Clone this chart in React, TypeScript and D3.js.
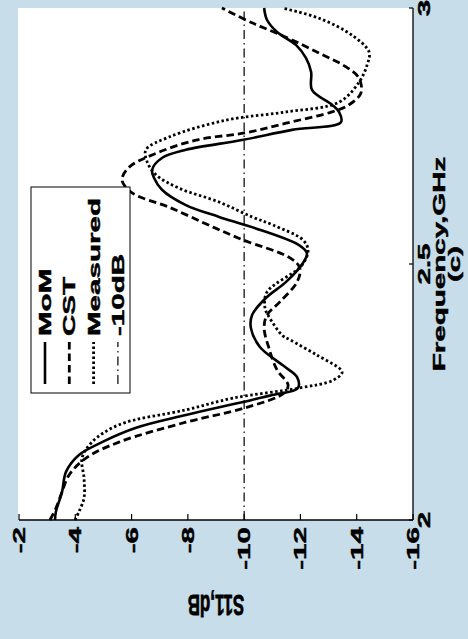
import React from 'react';
import * as d3 from 'd3';

// S11 vs frequency, three series
const momFreq = [2.000, 2.016, 2.055, 2.094, 2.127, 2.152, 2.180, 2.205, 2.230, 2.244, 2.258, 2.279, 2.303, 2.338, 2.375, 2.400, 2.434, 2.465, 2.502, 2.521, 2.537, 2.572, 2.592, 2.615, 2.645, 2.668, 2.684, 2.707, 2.723, 2.742, 2.762, 2.777, 2.797, 2.811, 2.840, 2.875, 2.902, 2.928, 2.953, 2.977, 3.000];
const momS11 = [-3.28, -3.31, -3.53, -3.67, -4.13, -4.95, -6.16, -7.93, -9.92, -11.0, -11.91, -11.88, -11.35, -10.56, -10.24, -10.28, -10.78, -11.49, -12.09, -12.23, -11.95, -10.28, -9.11, -7.93, -7.08, -6.80, -6.73, -7.08, -7.93, -9.92, -11.70, -13.44, -13.37, -13.12, -12.41, -12.38, -12.20, -11.84, -11.17, -10.81, -10.71];

const cstFreq = [2.000, 2.023, 2.055, 2.088, 2.121, 2.152, 2.191, 2.219, 2.248, 2.264, 2.293, 2.336, 2.375, 2.400, 2.426, 2.465, 2.492, 2.512, 2.547, 2.572, 2.611, 2.639, 2.664, 2.689, 2.713, 2.742, 2.756, 2.775, 2.797, 2.811, 2.834, 2.863, 2.885, 2.912, 2.943, 2.971, 3.000];
const cstS11 = [-3.10, -3.31, -3.53, -3.78, -4.38, -5.55, -7.93, -10.03, -11.42, -11.56, -11.17, -10.88, -10.71, -10.81, -11.27, -11.88, -11.98, -11.63, -9.96, -8.9, -7.33, -6.02, -5.66, -5.91, -6.73, -8.29, -10.03, -11.49, -13.12, -13.73, -14.15, -14.08, -13.62, -12.66, -11.49, -10.28, -9.21];

const measFreq = [2.000, 2.016, 2.043, 2.082, 2.121, 2.152, 2.186, 2.215, 2.238, 2.258, 2.273, 2.289, 2.322, 2.352, 2.361, 2.400, 2.414, 2.445, 2.498, 2.527, 2.547, 2.576, 2.592, 2.621, 2.648, 2.674, 2.700, 2.723, 2.748, 2.781, 2.797, 2.816, 2.855, 2.889, 2.914, 2.947, 2.980, 3.000];
const measS11 = [-3.99, -4.13, -4.31, -4.31, -4.24, -4.59, -5.55, -7.93, -9.60, -11.98, -13.16, -13.48, -12.59, -11.63, -11.35, -10.85, -10.74, -10.81, -12.06, -12.27, -12.09, -11.03, -10.28, -9.11, -7.69, -6.87, -6.55, -6.51, -7.33, -9.36, -11.49, -13.37, -14.08, -14.37, -14.44, -13.83, -12.66, -11.35];

const refLevel = -10;
const xTicks = [2, 2.5, 3];
const xTickLabels = ['2', '2.5', '3'];
const yTicks = [-2, -4, -6, -8, -10, -12, -14, -16];
const legendLabels = ['MoM', 'CST', 'Measured', '-10dB'];

const font = 'Liberation Sans, Arial, sans-serif';
const stretch = 1.74; // the figure's text is widened along the frequency axis

export default function App() {
  // the chart is drawn unrotated (639 wide, 468 tall) then turned 90deg counter-clockwise
  const x = d3.scaleLinear().domain([2, 3]).range([119, 631]);
  const y = d3.scaleLinear().domain([-2, -16]).range([19, 413]);

  const lineF = d3.line<[number, number]>()
    .x(d => x(d[0]))
    .y(d => y(d[1]))
    .curve(d3.curveCatmullRom.alpha(0.5));

  const zip = (f: number[], s: number[]) => f.map((v, i) => [v, s[i]] as [number, number]);

  const styles = [
    { dash: 'none', w: 2.6 },
    { dash: '7.5,4', w: 2.8 },
    { dash: '2.5,2.5', w: 2.8 },
    { dash: '9,4,1.5,4', w: 1.2 },
  ];

  const series = [zip(momFreq, momS11), zip(cstFreq, cstS11), zip(measFreq, measS11)];

  const [y0, y1] = y.range();
  const [x0, x1] = x.range();

  const txt = { fontFamily: font, fontWeight: 'bold' as const, fontSize: 17, stroke: '#000', strokeWidth: 0.45 };

  return (
    <svg width={468} height={639} style={{ position: 'absolute', left: 0, top: 0, background: '#c7dde9' }}>
      <g transform="translate(0,639) rotate(-90)">
        <rect x={x0} y={y0 - 1} width={x1 - x0} height={y1 - y0 + 1} fill="#fff" />

        {/* -10 dB reference */}
        <line x1={x0} x2={x1} y1={y(refLevel)} y2={y(refLevel)}
          stroke="#000" strokeWidth={styles[3].w} strokeDasharray={styles[3].dash} />

        {series.map((d, i) => (
          <path key={i} d={lineF(d) || ''} fill="none" stroke="#000"
            strokeWidth={styles[i].w} strokeDasharray={styles[i].dash} />
        ))}

        {/* axes */}
        <line x1={x0} x2={x0} y1={y0} y2={y1} stroke="#000" strokeWidth={1.3} />
        <line x1={x0} x2={x1} y1={y1} y2={y1} stroke="#000" strokeWidth={1.3} />

        {yTicks.map(v => (
          <g key={v}>
            <line x1={x0} x2={x0 + 6} y1={y(v)} y2={y(v)} stroke="#000" strokeWidth={1.2} />
            <text transform={`translate(${x0 - 7},${y(v) + 6}) scale(${stretch},1)`}
              textAnchor="end" {...txt}>{v}</text>
          </g>
        ))}

        {xTicks.map((v, i) => (
          <g key={v}>
            <line x1={x(v)} x2={x(v)} y1={y1} y2={y1 - 4} stroke="#000" strokeWidth={1.2} />
            <text transform={`translate(${x(v)},${y1 + 17}) scale(${stretch},1)`}
              textAnchor="middle" {...txt}>{xTickLabels[i]}</text>
          </g>
        ))}

        <text transform={`translate(${x(2.5)},445) scale(${stretch},1)`}
          textAnchor="middle" {...txt}>Frequency,GHz</text>
        <text transform={`translate(${x(2.5)},460) scale(${stretch},1)`}
          textAnchor="middle" {...txt}>(c)</text>

        <text transform={`translate(44,${(y0 + y1) / 2}) scale(${stretch},1) rotate(-90)`}
          textAnchor="middle" {...txt}>S11,dB</text>

        {/* legend */}
        <g>
          <rect x={246} y={31} width={206} height={99} fill="#fff" stroke="#000" strokeWidth={1} />
          {legendLabels.map((t, i) => {
            const cy = 45 + i * 24.3;
            return (
              <g key={t}>
                <line x1={255} x2={297} y1={cy} y2={cy} stroke="#000"
                  strokeWidth={styles[i].w} strokeDasharray={styles[i].dash} />
                <text transform={`translate(303,${cy + 6}) scale(${stretch},1)`} {...txt}>{t}</text>
              </g>
            );
          })}
        </g>
      </g>
    </svg>
  );
}
